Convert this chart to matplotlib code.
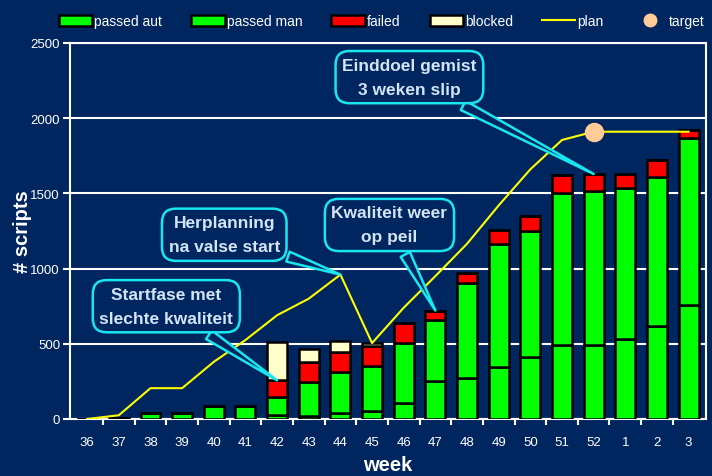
import numpy as np
import matplotlib
matplotlib.use('Agg')
import matplotlib.pyplot as plt
from matplotlib.patches import Patch
from matplotlib.lines import Line2D

plt.rcParams['font.family'] = ['Liberation Sans', 'DejaVu Sans']

# data
weeks = ['36', '37', '38', '39', '40', '41', '42', '43', '44', '45',
         '46', '47', '48', '49', '50', '51', '52', '1', '2', '3']
passed_aut = [0, 0, 0, 0, 0, 0, 25, 22, 40, 50,
              105, 255, 270, 345, 415, 495, 493, 535, 615, 760]
passed_man = [0, 8, 40, 40, 88, 88, 120, 222, 270, 300,
              400, 400, 637, 817, 836, 1010, 1025, 1000, 995, 1105]
failed = [0, 0, 0, 0, 0, 0, 112, 134, 133, 133,
          130, 66, 67, 94, 98, 120, 111, 96, 111, 55]
blocked = [0, 0, 0, 0, 0, 0, 255, 89, 74, 23,
           0, 0, 0, 0, 0, 0, 0, 0, 0, 0]
plan = [0, 25, 205, 205, 380, 525, 690, 800, 960, 505,
        740, 950, 1165, 1420, 1660, 1855, 1910, 1910, 1910, 1910]
target_week = '52'
target_value = 1910

bg = '#00265f'
green = '#00ff00'
red = '#ff0000'
cream = '#ffffcc'
cyan = '#19e6f0'
note_color = '#d2e4f6'

fig = plt.figure(figsize=(7.12, 4.77), dpi=100, facecolor=bg)
ax = fig.add_axes([0.098, 0.1195, 0.8936, 0.7883], facecolor=bg)

x = np.arange(len(weeks))
aut = np.array(passed_aut)
man = np.array(passed_man)
fail = np.array(failed)
blk = np.array(blocked)

w = 0.63
kw = dict(width=w, edgecolor='black', linewidth=1.8, zorder=3)
ax.bar(x, aut, color=green, **kw)
ax.bar(x, man, bottom=aut, color=green, **kw)
ax.bar(x, fail, bottom=aut + man, color=red, **kw)
ax.bar(x, blk, bottom=aut + man + fail, color=cream, **kw)

ax.plot(x, plan, color='#ffff00', lw=1.5, zorder=4)
ti = weeks.index(target_week)
ax.plot([ti], [target_value], 'o', color='#ffcc99', ms=13, zorder=5)

# axes styling
ax.set_xlim(-0.55, 19.55)
ax.set_ylim(0, 2500)
ax.set_yticks(np.arange(0, 2501, 500))
ax.set_xticks(x)
ax.set_xticklabels(weeks)
ax.set_xticks(x[:-1] + 0.5, minor=True)
ax.tick_params(axis='x', which='major', length=0, pad=12, labelsize=9.5, colors='white')
ax.tick_params(axis='x', which='minor', length=4, width=1.5, colors='white')
ax.tick_params(axis='y', length=5, width=1.5, colors='white', labelsize=9.5, pad=2)
for s in ax.spines.values():
    s.set_color('white')
    s.set_linewidth(1.5)
ax.yaxis.grid(True, color='white', lw=1.5, zorder=0)
ax.set_axisbelow(True)

ax.set_xlabel('week', color='white', fontsize=14.5, fontweight='bold', labelpad=5)
ax.set_ylabel('# scripts', color='white', fontsize=14.5, fontweight='bold', labelpad=-1)

# callouts
total = aut + man + fail + blk
notes = [
    ('Startfase met\nslechte kwaliteit', (6, aut[6] + man[6] + fail[6]), (2.5, 750)),
    ('Herplanning\nna valse start', (8, plan[8]), (4.33, 1225)),
    ('Kwaliteit weer\nop peil', (11, total[11]), (9.55, 1290)),
    ('Einddoel gemist\n3 weken slip', (16, total[16]), (10.18, 2273)),
]
for txt, xy, xyt in notes:
    ax.annotate(txt, xy=xy, xytext=xyt, ha='center', va='center',
                fontsize=12.5, fontweight='bold', color=note_color,
                linespacing=1.75, zorder=6,
                bbox=dict(boxstyle='round,pad=0.38,rounding_size=0.8',
                          fc=bg, ec=cyan, lw=1.8),
                arrowprops=dict(arrowstyle='wedge,tail_width=0.6,shrink_factor=0.5',
                                fc=bg, ec=cyan, lw=1.8, shrinkB=0))

# legend
handles = [
    Patch(facecolor=green, edgecolor='black', lw=1.8, label='passed aut'),
    Patch(facecolor=green, edgecolor='black', lw=1.8, label='passed man'),
    Patch(facecolor=red, edgecolor='black', lw=1.8, label='failed'),
    Patch(facecolor=cream, edgecolor='black', lw=1.8, label='blocked'),
    Line2D([], [], color='#ffff00', lw=1.5, label='plan'),
    Line2D([], [], marker='o', ls='none', color='#ffcc99', ms=9, label='target'),
]
leg = fig.legend(handles=handles, loc='upper left', bbox_to_anchor=(0.065, 0.995),
                 ncol=6, frameon=False, fontsize=10, handlelength=2.4,
                 handleheight=0.85, handletextpad=0.15, columnspacing=2.1,
                 labelcolor='white')

fig.savefig('out.png', dpi=100, facecolor=bg)
